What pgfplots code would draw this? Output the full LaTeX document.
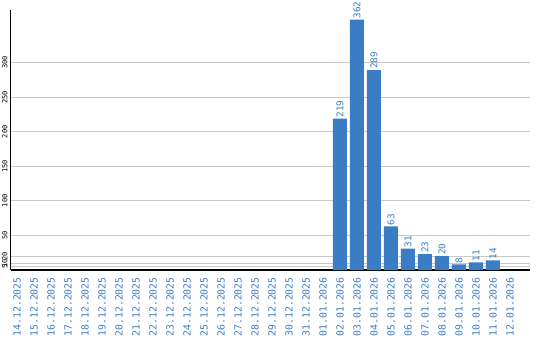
\documentclass[border=0pt]{standalone}
\usepackage{fontspec}
\setmonofont{DejaVu Sans Mono}
\usepackage{pgfplots}
\pgfplotsset{compat=1.18}
\definecolor{barblue}{RGB}{59,125,196}
\definecolor{gridgray}{RGB}{200,200,200}
\begin{document}
\begin{tikzpicture}[x=1pt,y=1pt]
\useasboundingbox (-10.7,-70) rectangle (529.3,270);
\begin{axis}[
  at={(0,0)}, anchor=south west,
  scale only axis, width=519.3pt, height=260pt,
  xmin=-0.37, xmax=30.18, ymin=0, ymax=376,
  axis x line=bottom, axis y line=left,
  axis line style={-},
  x axis line style={line width=1.5pt},
  y axis line style={line width=0.8pt},
  xtick={0,...,29},
  xticklabels={14.12.2025,15.12.2025,16.12.2025,17.12.2025,18.12.2025,19.12.2025,20.12.2025,21.12.2025,22.12.2025,23.12.2025,24.12.2025,25.12.2025,26.12.2025,27.12.2025,28.12.2025,29.12.2025,30.12.2025,31.12.2025,01.01.2026,02.01.2026,03.01.2026,04.01.2026,05.01.2026,06.01.2026,07.01.2026,08.01.2026,09.01.2026,10.01.2026,11.01.2026,12.01.2026},
  xticklabel style={rotate=90, anchor=east, font=\ttfamily\fontsize{9.8}{10}\selectfont, text=barblue, inner xsep=5pt, inner ysep=0pt},
  major x tick style={draw=none},
  ytick={5,10,20,50,100,150,200,250,300},
  yticklabel style={rotate=90, anchor=south, font=\ttfamily\fontsize{7}{7}\selectfont, text=black, inner sep=1pt},
  /pgf/number format/assume math mode=true,
  major y tick style={draw=none},
  ymajorgrids, grid style={gridgray, line width=0.8pt},
  clip=false,
]
\addplot[ybar, bar width=14pt, fill=barblue, draw=none,
  nodes near coords,
  every node near coord/.append style={rotate=90, anchor=west, font=\ttfamily\fontsize{9.3}{9}\selectfont, text=barblue, inner sep=1pt}]
  coordinates {(19,219) (20,362) (21,289) (22,63) (23,31) (24,23) (25,20) (26,8) (27,11) (28,14)};
\end{axis}
\end{tikzpicture}
\end{document}
